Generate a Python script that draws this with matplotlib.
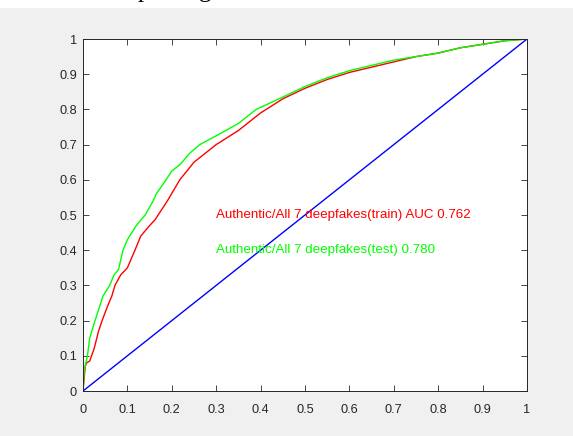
import matplotlib.pyplot as plt
import numpy as np

# ROC points (false positive rate, true positive rate)
fpr_train = [0, 0.005, 0.008, 0.015, 0.025, 0.035, 0.043, 0.055, 0.065, 0.072, 0.085,
             0.1, 0.117, 0.13, 0.15, 0.162, 0.19, 0.218, 0.25, 0.28, 0.3, 0.35, 0.4,
             0.45, 0.5, 0.55, 0.6, 0.65, 0.7, 0.75, 0.8, 0.85, 0.9, 0.95, 1]
tpr_train = [0, 0.07, 0.08, 0.085, 0.12, 0.17, 0.2, 0.24, 0.27, 0.3, 0.33,
             0.35, 0.4, 0.44, 0.47, 0.486, 0.54, 0.6, 0.65, 0.68, 0.7, 0.74, 0.79,
             0.83, 0.86, 0.885, 0.905, 0.92, 0.935, 0.95, 0.96, 0.975, 0.985, 0.995, 1]

fpr_test = [0, 0.003, 0.01, 0.015, 0.027, 0.035, 0.045, 0.05, 0.06, 0.07, 0.08,
            0.09, 0.1, 0.12, 0.14, 0.158, 0.165, 0.187, 0.2, 0.22, 0.24, 0.263, 0.3,
            0.35, 0.39, 0.45, 0.5, 0.55, 0.6, 0.65, 0.7, 0.75, 0.8, 0.85, 0.9, 0.95, 1]
tpr_test = [0, 0.06, 0.1, 0.15, 0.2, 0.23, 0.27, 0.28, 0.3, 0.33, 0.345,
            0.4, 0.43, 0.47, 0.5, 0.54, 0.56, 0.6, 0.625, 0.645, 0.675, 0.7, 0.725,
            0.76, 0.8, 0.835, 0.865, 0.89, 0.91, 0.925, 0.94, 0.95, 0.96, 0.975, 0.985, 0.995, 1]

diag = [0, 1]
ticks = [0, 0.1, 0.2, 0.3, 0.4, 0.5, 0.6, 0.7, 0.8, 0.9, 1]
tick_labels = ["0", "0.1", "0.2", "0.3", "0.4", "0.5", "0.6", "0.7", "0.8", "0.9", "1"]

label_train = "Authentic/All 7 deepfakes(train) AUC 0.762"
label_test = "Authentic/All 7 deepfakes(test) 0.780"

plt.rcParams["font.family"] = ["Liberation Sans", "DejaVu Sans"]

W, H = 573, 436
fig = plt.figure(figsize=(W / 100, H / 100), dpi=100, facecolor="#f0f0f0")

# white strip at the top with the cut-off caption of the page (only descenders show)
strip = fig.add_axes([0, 1 - 8 / H, 1, 8 / H])
strip.set_facecolor("white")
strip.set_xticks([])
strip.set_yticks([])
for s in strip.spines.values():
    s.set_visible(False)
fig.text(138 / W, 1 + 3 / H, "p", family="Liberation Serif", fontsize=18,
         color="black", va="baseline")
fig.text(199 / W, 1 + 3 / H, "g", family="Liberation Serif", fontsize=18,
         color="black", va="baseline")

ax = fig.add_axes([83 / W, 1 - 391 / H, 444 / W, 352 / H])
ax.set_facecolor("white")
ax.plot(fpr_train, tpr_train, color="#ff0000", lw=1.0)
ax.plot(fpr_test, tpr_test, color="#00ff00", lw=1.0)
ax.plot(diag, diag, color="#0000ff", lw=1.0)

ax.text(0.3, 0.5, label_train, color="#ff0000", fontsize=9.6, va="center")
ax.text(0.3, 0.4, label_test, color="#00ff00", fontsize=9.6, va="center")

ax.set_xlim(0, 1)
ax.set_ylim(0, 1)
ax.set_xticks(ticks)
ax.set_xticklabels(tick_labels)
ax.set_yticks(ticks)
ax.set_yticklabels(tick_labels)
ax.tick_params(direction="in", length=4, width=0.6, colors="#262626", labelsize=9.2,
               top=True, right=True)
ax.tick_params(axis="x", pad=9)
ax.tick_params(axis="y", pad=4.5)
for s in ax.spines.values():
    s.set_color("#262626")
    s.set_linewidth(0.7)

fig.savefig("out.png", dpi=100, facecolor=fig.get_facecolor())
